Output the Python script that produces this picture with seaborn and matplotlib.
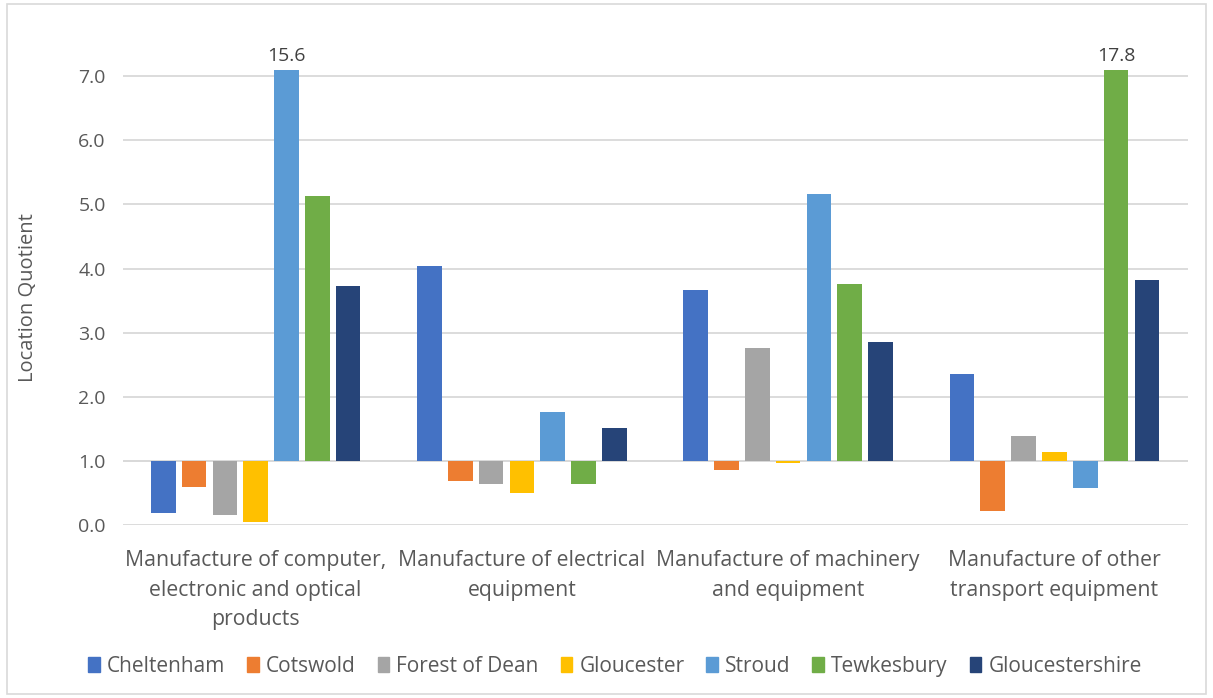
import numpy as np
import pandas as pd
import matplotlib
matplotlib.use("Agg")
import matplotlib.pyplot as plt
from matplotlib.patches import Rectangle
import seaborn as sns

# Data (location quotients, baseline 1.0)
industries = [
    "Manufacture of computer,\nelectronic and optical\nproducts",
    "Manufacture of electrical\nequipment",
    "Manufacture of machinery\nand equipment",
    "Manufacture of other\ntransport equipment",
]
areas = ["Cheltenham", "Cotswold", "Forest of Dean", "Gloucester",
         "Stroud", "Tewkesbury", "Gloucestershire"]
cheltenham = [0.18, 4.04, 3.67, 2.36]
cotswold = [0.59, 0.68, 0.86, 0.21]
forest_of_dean = [0.15, 0.64, 2.76, 1.39]
gloucester = [0.05, 0.49, 0.96, 1.14]
stroud = [15.6, 1.76, 5.16, 0.58]
tewkesbury = [5.13, 0.64, 3.76, 17.8]
gloucestershire = [3.73, 1.51, 2.85, 3.82]

colors = ["#4472C4", "#ED7D31", "#A5A5A5", "#FFC000",
          "#5B9BD5", "#70AD47", "#264478"]
text_col = "#595959"
ymax = 7.1

series = [cheltenham, cotswold, forest_of_dean, gloucester,
          stroud, tewkesbury, gloucestershire]
rows = []
for area, vals in zip(areas, series):
    for ind, v in zip(industries, vals):
        rows.append({"Industry": ind, "Area": area, "LQ": v, "Dev": v - 1.0})
df = pd.DataFrame(rows)

sns.set_style("white")
plt.rcParams["font.family"] = ["Open Sans", "DejaVu Sans"]

fig = plt.figure(figsize=(12.13, 6.98), dpi=100)
ax = fig.add_axes([0.101, 0.248, 0.878, 0.652])

# bars drawn from the 1.0 baseline
sns.barplot(data=df, x="Industry", y="Dev", hue="Area", order=industries,
            hue_order=areas, palette=colors, bottom=1.0, width=0.81, gap=0.2,
            errorbar=None, ax=ax, saturation=1, linewidth=0, legend=False)

ax.set_ylim(0, ymax)
ax.set_yticks(np.arange(0, 8, 1.0))
ax.set_yticklabels([f"{t:.1f}" for t in np.arange(0, 8, 1.0)])
ax.yaxis.grid(True, color="#D9D9D9", linewidth=1.3)
ax.set_axisbelow(True)
ax.axhline(1.0, color="#D9D9D9", linewidth=1.3, zorder=0.5)
for s in ax.spines.values():
    s.set_visible(False)
ax.tick_params(axis="y", length=0, labelsize=14, colors=text_col, pad=12)
ax.tick_params(axis="x", length=0, labelsize=15.3, colors=text_col, pad=18)
ax.set_xlabel("")
ax.set_ylabel("Location Quotient", fontsize=14.5, color=text_col)
ax.yaxis.set_label_coords(-0.079, 0.5)
for lbl in ax.get_xticklabels():
    lbl.set_linespacing(1.55)

# labels for bars running off the top of the axis
for container, area in zip(ax.containers, areas):
    for bar, val in zip(container, df[df.Area == area].LQ):
        if val > ymax:
            ax.text(bar.get_x() + bar.get_width() / 2, ymax + 0.08, f"{val:.1f}",
                    ha="center", va="bottom", fontsize=14, color="#404040",
                    clip_on=False)

handles = [Rectangle((0, 0), 1, 1, color=c) for c in colors]
fig.legend(handles, areas, loc="center", bbox_to_anchor=(0.507, 0.045), ncol=7,
           frameon=False, fontsize=15, handlelength=0.55, handleheight=0.75,
           handletextpad=0.35, columnspacing=1.05, labelcolor=text_col)

fig.patches.append(Rectangle((0.006, 0.006), 0.988, 0.988, transform=fig.transFigure,
                             fill=False, edgecolor="#D9D9D9", linewidth=1.2))

fig.savefig("out.png", dpi=100)
